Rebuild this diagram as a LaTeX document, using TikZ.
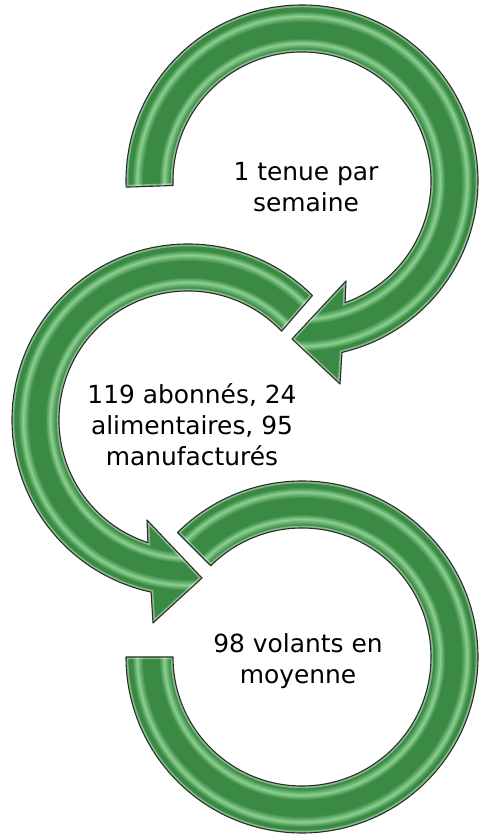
\documentclass[tikz,border=0pt]{standalone}
\usepackage{fontspec}
\setmainfont{DejaVu Sans}

\definecolor{ringgreen}{RGB}{58,138,68}
\definecolor{ringlight}{RGB}{140,208,146}
\definecolor{ringedge}{RGB}{40,48,40}

% glossy tube look across the band of a ring
\pgfdeclareradialshading{tubeshade}{\pgfpointorigin}{%
  color(0bp)=(ringgreen); color(132bp)=(ringgreen);
  color(138bp)=(ringlight); color(143bp)=(ringgreen);
  color(159bp)=(ringgreen); color(165bp)=(ringlight);
  color(170bp)=(ringgreen); color(215bp)=(ringgreen)}

% ring outlines, relative to each ring's centre
\newcommand{\toppath}{(182:176) arc[start angle=182,end angle=-76.86,radius=176]
  -- (38,-203) -- (-10,-158) -- (44,-100) -- (-70.5:129)
  arc[start angle=-70.5,end angle=182,radius=129] -- cycle}
\newcommand{\midpath}{(45:176) arc[start angle=45,end angle=257.9,radius=176]
  -- (-35,-203) -- (14,-158) -- (-41,-100) -- (251.9:129)
  arc[start angle=251.9,end angle=43.5,radius=129] -- cycle}
\newcommand{\lowpath}{(135:176) arc[start angle=135,end angle=-180,radius=176]
  -- (-180:129) arc[start angle=-180,end angle=135,radius=129] -- cycle}

\begin{document}
\begin{tikzpicture}[
  x=1bp, y=1bp,
  bevel/.style={draw=white, opacity=0.4, line width=4.5bp},
  rim/.style={draw=ringedge, line width=1.1bp, line join=round},
  cycletext/.style={align=center, inner sep=0pt, text=black,
                    font=\fontsize{25}{31}\selectfont}
]
\path[use as bounding box, fill=white] (0,0) rectangle (480,838);

% top ring, clockwise
\begin{scope}[shift={(302,657)}]
  \begin{scope}
    \clip \toppath;
    \pgftext{\pgfuseshading{tubeshade}}
    \draw[bevel] \toppath;
  \end{scope}
  \draw[rim] \toppath;
\end{scope}

% middle ring, anticlockwise
\begin{scope}[shift={(188,418)}]
  \begin{scope}
    \clip \midpath;
    \pgftext{\pgfuseshading{tubeshade}}
    \draw[bevel] \midpath;
  \end{scope}
  \draw[rim] \midpath;
\end{scope}

% bottom ring, no head
\begin{scope}[shift={(302,181)}]
  \begin{scope}
    \clip \lowpath;
    \pgftext{\pgfuseshading{tubeshade}}
    \draw[bevel] \lowpath;
  \end{scope}
  \draw[rim] \lowpath;
\end{scope}

\node[cycletext] (tenue) at (306,651) {1 tenue par\\semaine};
\node[cycletext] (abonnes) at (192,413) {119 abonnés, 24\\alimentaires, 95\\manufacturés};
\node[cycletext] (volants) at (298,177) {98 volants en\\moyenne};
\end{tikzpicture}
\end{document}
